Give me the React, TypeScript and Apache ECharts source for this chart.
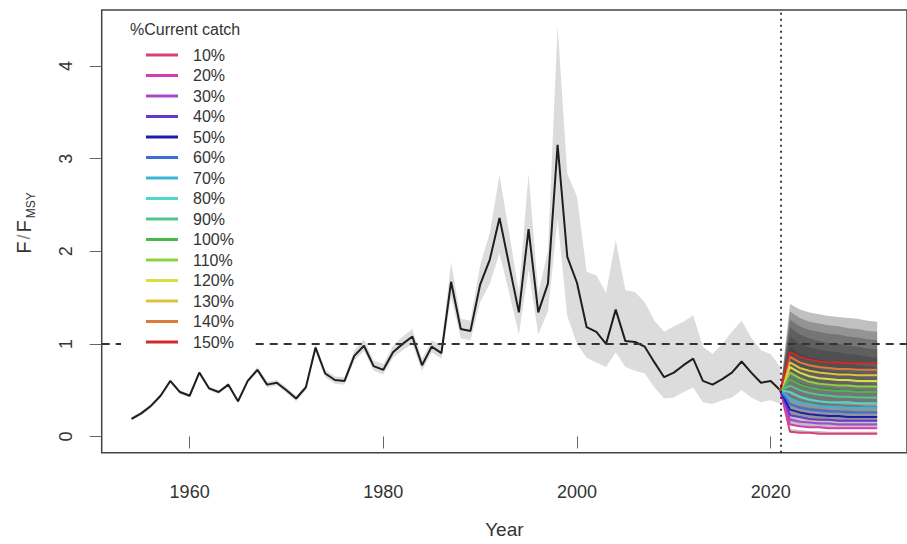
import React, { useEffect, useRef } from "react";
import * as echarts from "echarts";

const histYears = [
  1954, 1955, 1956, 1957, 1958, 1959, 1960, 1961, 1962, 1963,
  1964, 1965, 1966, 1967, 1968, 1969, 1970, 1971, 1972, 1973,
  1974, 1975, 1976, 1977, 1978, 1979, 1980, 1981, 1982, 1983,
  1984, 1985, 1986, 1987, 1988, 1989, 1990, 1991, 1992, 1993,
  1994, 1995, 1996, 1997, 1998, 1999, 2000, 2001, 2002, 2003,
  2004, 2005, 2006, 2007, 2008, 2009, 2010, 2011, 2012, 2013,
  2014, 2015, 2016, 2017, 2018, 2019, 2020, 2021,
];
const histF = [
  0.19, 0.25, 0.33, 0.44, 0.6, 0.48, 0.44, 0.69, 0.52, 0.48,
  0.56, 0.38, 0.6, 0.72, 0.56, 0.58, 0.5, 0.41, 0.53, 0.96,
  0.68, 0.61, 0.6, 0.87, 0.98, 0.76, 0.72, 0.91, 1.0, 1.08,
  0.77, 0.97, 0.9, 1.67, 1.16, 1.14, 1.64, 1.91, 2.36, 1.85,
  1.34, 2.24, 1.34, 1.65, 3.15, 1.94, 1.66, 1.18, 1.13, 1.0,
  1.37, 1.03, 1.02, 0.97, 0.8, 0.64, 0.69, 0.77, 0.84, 0.6,
  0.56, 0.62, 0.69, 0.81, 0.69, 0.58, 0.6, 0.5,
];
const histUpper = [
  0.21, 0.27, 0.35, 0.46, 0.62, 0.5, 0.46, 0.71, 0.54, 0.5,
  0.58, 0.4, 0.62, 0.75, 0.59, 0.61, 0.53, 0.44, 0.56, 1.0,
  0.72, 0.65, 0.64, 0.93, 1.05, 0.82, 0.78, 0.98, 1.08, 1.16,
  0.84, 1.04, 0.98, 1.88, 1.27, 1.25, 1.85, 2.2, 2.82, 2.2,
  1.55, 2.84, 1.55, 2.0, 4.43, 2.84, 2.59, 1.78, 1.74, 1.55,
  2.12, 1.58, 1.56, 1.45, 1.25, 1.13, 1.19, 1.24, 1.31, 0.97,
  0.89, 1.0, 1.13, 1.25, 1.07, 0.93, 0.89, 0.75,
];
const histLower = [
  0.17, 0.23, 0.31, 0.42, 0.58, 0.46, 0.42, 0.67, 0.5, 0.46,
  0.54, 0.36, 0.58, 0.69, 0.53, 0.55, 0.47, 0.38, 0.5, 0.92,
  0.64, 0.57, 0.56, 0.82, 0.92, 0.71, 0.67, 0.85, 0.93, 1.0,
  0.71, 0.91, 0.84, 1.5, 1.06, 1.04, 1.45, 1.65, 1.98, 1.55,
  1.1, 1.8, 1.1, 1.35, 2.35, 1.3, 1.0, 0.85, 0.8, 0.75,
  0.91, 0.75, 0.71, 0.68, 0.53, 0.41, 0.42, 0.48, 0.53, 0.37,
  0.35, 0.39, 0.42, 0.5, 0.42, 0.37, 0.39, 0.35,
];

const projYears = [2021, 2022, 2023, 2024, 2025, 2026, 2027, 2028, 2029, 2030, 2031];
const scenarioNames = ["10%", "20%", "30%", "40%", "50%", "60%", "70%", "80%", "90%", "100%", "110%", "120%", "130%", "140%", "150%"];
const scenarioColors = [
  "#D8407A", "#D43EB0", "#A848D0", "#6438C8", "#1C1CA8",
  "#3C6EDC", "#3CB4D6", "#50D8C8", "#50C48C", "#48B848",
  "#8CD43C", "#D8E046", "#E2C23C", "#DC7A3C", "#D02A2A",
];
const f10 = [0.5, 0.05, 0.04, 0.04, 0.03, 0.03, 0.03, 0.03, 0.03, 0.03, 0.03];
const f20 = [0.5, 0.13, 0.11, 0.1, 0.1, 0.09, 0.09, 0.09, 0.09, 0.09, 0.09];
const f30 = [0.5, 0.18, 0.16, 0.15, 0.14, 0.14, 0.13, 0.13, 0.13, 0.13, 0.13];
const f40 = [0.5, 0.23, 0.21, 0.19, 0.18, 0.18, 0.17, 0.17, 0.17, 0.17, 0.17];
const f50 = [0.5, 0.29, 0.26, 0.24, 0.23, 0.22, 0.22, 0.21, 0.21, 0.21, 0.21];
const f60 = [0.5, 0.35, 0.31, 0.29, 0.28, 0.27, 0.27, 0.26, 0.26, 0.26, 0.26];
const f70 = [0.5, 0.41, 0.37, 0.35, 0.33, 0.32, 0.32, 0.31, 0.31, 0.31, 0.31];
const f80 = [0.5, 0.48, 0.43, 0.4, 0.38, 0.37, 0.37, 0.37, 0.36, 0.36, 0.36];
const f90 = [0.5, 0.55, 0.5, 0.47, 0.45, 0.44, 0.43, 0.43, 0.42, 0.42, 0.42];
const f100 = [0.5, 0.62, 0.56, 0.53, 0.51, 0.5, 0.49, 0.49, 0.48, 0.48, 0.48];
const f110 = [0.5, 0.69, 0.63, 0.59, 0.57, 0.56, 0.55, 0.55, 0.54, 0.54, 0.54];
const f120 = [0.5, 0.75, 0.69, 0.65, 0.63, 0.62, 0.61, 0.61, 0.6, 0.6, 0.6];
const f130 = [0.5, 0.8, 0.74, 0.71, 0.69, 0.68, 0.67, 0.67, 0.66, 0.66, 0.66];
const f140 = [0.5, 0.86, 0.8, 0.77, 0.75, 0.74, 0.73, 0.73, 0.72, 0.72, 0.72];
const f150 = [0.5, 0.91, 0.86, 0.83, 0.81, 0.8, 0.8, 0.79, 0.79, 0.79, 0.79];
const scenarioF = [f10, f20, f30, f40, f50, f60, f70, f80, f90, f100, f110, f120, f130, f140, f150];

const u10 = [0.5, 0.08, 0.07, 0.06, 0.06, 0.05, 0.05, 0.05, 0.05, 0.05, 0.05];
const u20 = [0.5, 0.2, 0.17, 0.16, 0.15, 0.15, 0.14, 0.14, 0.14, 0.14, 0.14];
const u30 = [0.5, 0.28, 0.25, 0.23, 0.22, 0.21, 0.21, 0.21, 0.2, 0.2, 0.2];
const u40 = [0.5, 0.36, 0.33, 0.31, 0.3, 0.29, 0.28, 0.28, 0.27, 0.27, 0.27];
const u50 = [0.5, 0.46, 0.41, 0.38, 0.37, 0.36, 0.35, 0.34, 0.34, 0.33, 0.33];
const u60 = [0.5, 0.55, 0.5, 0.47, 0.45, 0.44, 0.43, 0.42, 0.42, 0.41, 0.41];
const u70 = [0.5, 0.64, 0.58, 0.55, 0.53, 0.52, 0.51, 0.5, 0.5, 0.49, 0.49];
const u80 = [0.5, 0.75, 0.68, 0.65, 0.63, 0.61, 0.6, 0.59, 0.58, 0.58, 0.57];
const u90 = [0.5, 0.86, 0.79, 0.75, 0.73, 0.71, 0.7, 0.69, 0.68, 0.67, 0.66];
const u100 = [0.5, 0.97, 0.89, 0.85, 0.83, 0.81, 0.8, 0.79, 0.77, 0.76, 0.75];
const u110 = [0.5, 1.08, 1.0, 0.96, 0.94, 0.92, 0.91, 0.89, 0.88, 0.86, 0.85];
const u120 = [0.5, 1.18, 1.1, 1.06, 1.03, 1.01, 1.0, 0.98, 0.97, 0.95, 0.94];
const u130 = [0.5, 1.26, 1.19, 1.15, 1.13, 1.11, 1.1, 1.08, 1.07, 1.05, 1.04];
const u140 = [0.5, 1.35, 1.28, 1.24, 1.22, 1.2, 1.19, 1.17, 1.16, 1.14, 1.13];
const u150 = [0.5, 1.43, 1.37, 1.34, 1.32, 1.3, 1.29, 1.28, 1.27, 1.25, 1.24];
const scenarioUpper = [u10, u20, u30, u40, u50, u60, u70, u80, u90, u100, u110, u120, u130, u140, u150];

const xTicks = [1960, 1980, 2000, 2020];
const yTicks = [0, 1, 2, 3, 4];
const refLevel = 1;
const assessmentYear = 2021;

const FONT = "'Liberation Sans', Arial, Helvetica, sans-serif";

function bandSeries(xs: number[], upper: number[], lower: number[], fill: string, z: number) {
  return {
    type: "custom",
    silent: true,
    z,
    clip: true,
    data: [[xs[0], upper[0]]],
    renderItem: (params: any, api: any) => {
      const pts: number[][] = [];
      for (let i = 0; i < xs.length; i++) pts.push(api.coord([xs[i], upper[i]]));
      for (let i = xs.length - 1; i >= 0; i--) pts.push(api.coord([xs[i], lower[i]]));
      return { type: "polygon", shape: { points: pts }, style: { fill, stroke: "none" } };
    },
  };
}

export default function App() {
  const ref = useRef<HTMLDivElement>(null);
  useEffect(() => {
    if (!ref.current) return;
    const chart = echarts.init(ref.current, undefined, { renderer: "svg" });
    const series: any[] = [];
    series.push(bandSeries(histYears, histUpper, histLower, "#dcdcdc", 1));
    scenarioF.forEach((f, i) => {
      series.push(bandSeries(projYears, scenarioUpper[i], f, "rgba(45,45,45,0.3)", 1));
    });
    series.push({
      type: "line",
      name: "F/Fmsy",
      data: histYears.map((y, i) => [y, histF[i]]),
      showSymbol: false,
      lineStyle: { color: "#1e1e1e", width: 2 },
      z: 3,
      markLine: {
        silent: true,
        symbol: "none",
        label: { show: false },
        data: [
          { yAxis: refLevel, lineStyle: { type: [8, 6], color: "#333", width: 2 } },
          { xAxis: assessmentYear, lineStyle: { type: [2, 4], color: "#111", width: 1.6 } },
        ],
      },
    });
    scenarioF.forEach((f, i) => {
      series.push({
        type: "line",
        name: scenarioNames[i],
        data: projYears.map((y, j) => [y, f[j]]),
        showSymbol: false,
        color: scenarioColors[i],
        lineStyle: { color: scenarioColors[i], width: 2 },
        z: 3,
      });
    });

    chart.setOption({
      animation: false,
      backgroundColor: "#ffffff",
      textStyle: { fontFamily: FONT },
      grid: {
        left: 101.7,
        top: 10,
        right: -9,
        bottom: 91.3,
        show: true,
        borderColor: "#444",
        borderWidth: 1.5,
        backgroundColor: "transparent",
      },
      title: {
        text: "%Current catch",
        left: 130,
        top: 21,
        padding: 0,
        z: 20,
        textStyle: { fontSize: 16, fontWeight: "normal", color: "#333", fontFamily: FONT },
      },
      legend: {
        orient: "vertical",
        left: 121,
        top: 14,
        z: 15,
        data: scenarioNames,
        icon: "rect",
        itemWidth: 32,
        itemHeight: 3,
        itemGap: 4.5,
        padding: [33, 21, 7, 25],
        backgroundColor: "#ffffff",
        selectedMode: false,
        textStyle: { fontSize: 16, color: "#333", lineHeight: 16, padding: [0, 0, 0, 10], fontFamily: FONT },
      },
      xAxis: {
        type: "value",
        min: 1950.92,
        max: 2034.08,
        name: "Year",
        nameLocation: "middle",
        nameGap: 67,
        nameTextStyle: { fontSize: 19, color: "#333", fontFamily: FONT },
        axisLine: { show: false },
        axisTick: { show: true, inside: false, length: 12, customValues: xTicks, lineStyle: { color: "#666", width: 1 } },
        axisLabel: {
          customValues: xTicks,
          formatter: (v: number) => String(Math.round(v)),
          fontSize: 18,
          color: "#333",
          margin: 30,
          fontFamily: FONT,
        },
        splitLine: { show: false },
      },
      yAxis: {
        type: "value",
        min: -0.175,
        max: 4.605,
        axisLine: { show: false },
        axisTick: { show: true, inside: false, length: 12, customValues: yTicks, lineStyle: { color: "#666", width: 1 } },
        axisLabel: {
          customValues: yTicks,
          formatter: (v: number) => String(Math.round(v)),
          rotate: 90,
          fontSize: 18,
          color: "#333",
          margin: 27,
          fontFamily: FONT,
        },
        splitLine: { show: false },
      },
      graphic: [
        {
          type: "text",
          x: 24,
          y: 224,
          rotation: Math.PI / 2,
          style: {
            text: "{a|F}{b|/}{a|F}{s|MSY}",
            align: "center",
            verticalAlign: "middle",
            rich: {
              a: { fontSize: 20, fontFamily: FONT, fill: "#333", lineHeight: 26, padding: [0, 2, 0, 2] },
              b: { fontSize: 18, fontFamily: FONT, fill: "#888", lineHeight: 26 },
              s: { fontSize: 12, fontFamily: FONT, fill: "#333", lineHeight: 12, verticalAlign: "bottom" },
            },
          },
        },
      ],
      series,
    });
    return () => chart.dispose();
  }, []);
  return (
    <div
      ref={ref}
      style={{ position: "absolute", left: 0, top: 0, width: 907, height: 544, background: "#fff" }}
    />
  );
}
